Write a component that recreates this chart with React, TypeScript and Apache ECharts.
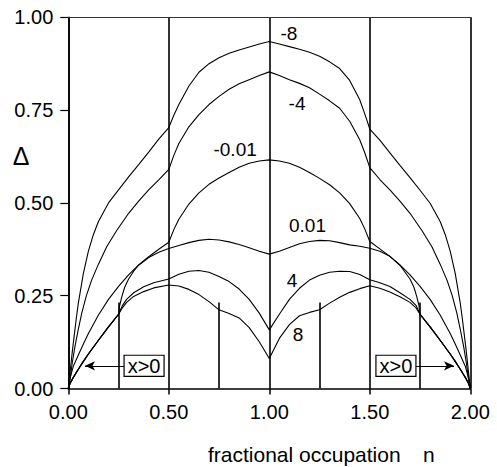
import React, { useEffect, useRef } from "react";
import * as echarts from "echarts";

// x>0 common branch (0 < n < 0.25 and 1.75 < n < 2)
const commonLeft: [number, number][] = [
  [0, 0], [0.01, 0.015], [0.025, 0.03], [0.05, 0.052], [0.075, 0.073], [0.1, 0.093],
  [0.15, 0.13], [0.2, 0.166], [0.25, 0.2],
];
const commonRight: [number, number][] = [
  [1.75, 0.2], [1.8, 0.166], [1.85, 0.13], [1.9, 0.093], [1.925, 0.073], [1.95, 0.052],
  [1.975, 0.03], [1.99, 0.015], [2, 0],
];

const curveM8: [number, number][] = [
  [0, 0], [0.01, 0.05], [0.02, 0.1], [0.03, 0.145], [0.04, 0.19], [0.05, 0.23], [0.075, 0.31],
  [0.1, 0.37], [0.125, 0.415], [0.15, 0.45], [0.2, 0.5], [0.25, 0.535], [0.3, 0.57], [0.35, 0.603],
  [0.4, 0.637], [0.45, 0.672], [0.5, 0.703], [0.525, 0.736], [0.55, 0.765], [0.6, 0.815],
  [0.65, 0.852], [0.7, 0.875], [0.75, 0.891], [0.8, 0.903], [0.85, 0.912], [0.9, 0.92],
  [0.95, 0.928], [1, 0.935], [1.05, 0.928], [1.1, 0.921], [1.15, 0.914], [1.2, 0.906],
  [1.25, 0.895], [1.3, 0.88], [1.35, 0.862], [1.4, 0.83], [1.45, 0.778], [1.475, 0.74],
  [1.5, 0.699], [1.55, 0.669], [1.6, 0.635], [1.65, 0.601], [1.7, 0.568], [1.75, 0.534],
  [1.8, 0.499], [1.85, 0.45], [1.875, 0.415], [1.9, 0.37], [1.925, 0.31], [1.95, 0.23],
  [1.96, 0.19], [1.97, 0.145], [1.98, 0.1], [1.99, 0.05], [2, 0],
];

const curveM4: [number, number][] = [
  [0, 0], [0.01, 0.03], [0.02, 0.07], [0.033, 0.113], [0.05, 0.16], [0.067, 0.203], [0.09, 0.25],
  [0.116, 0.292], [0.15, 0.335], [0.191, 0.382], [0.24, 0.425], [0.3, 0.472], [0.35, 0.505],
  [0.4, 0.535], [0.45, 0.562], [0.5, 0.59], [0.525, 0.628], [0.55, 0.66], [0.6, 0.705],
  [0.65, 0.738], [0.7, 0.765], [0.75, 0.787], [0.8, 0.806], [0.85, 0.821], [0.9, 0.832],
  [0.95, 0.843], [1, 0.853], [1.05, 0.843], [1.1, 0.832], [1.15, 0.822], [1.2, 0.81],
  [1.25, 0.793], [1.3, 0.775], [1.35, 0.755], [1.4, 0.72], [1.45, 0.67], [1.475, 0.635],
  [1.5, 0.595], [1.55, 0.563], [1.6, 0.535], [1.65, 0.505], [1.7, 0.472], [1.76, 0.425],
  [1.809, 0.382], [1.85, 0.335], [1.884, 0.292], [1.91, 0.25], [1.933, 0.203], [1.95, 0.16],
  [1.967, 0.113], [1.98, 0.07], [1.99, 0.03], [2, 0],
];

const curveM001: [number, number][] = [
  [0, 0], [0.01, 0.03], [0.025, 0.06], [0.05, 0.09], [0.075, 0.12], [0.1, 0.148], [0.15, 0.198],
  [0.2, 0.24], [0.25, 0.275], [0.3, 0.306], [0.35, 0.333], [0.4, 0.355], [0.45, 0.375],
  [0.5, 0.394], [0.525, 0.428], [0.55, 0.456], [0.6, 0.497], [0.65, 0.527], [0.7, 0.55],
  [0.75, 0.567], [0.8, 0.582], [0.85, 0.596], [0.9, 0.607], [0.95, 0.613], [1, 0.616],
  [1.05, 0.613], [1.1, 0.607], [1.15, 0.596], [1.2, 0.582], [1.25, 0.566], [1.3, 0.549],
  [1.35, 0.527], [1.4, 0.498], [1.45, 0.458], [1.475, 0.43], [1.5, 0.396], [1.55, 0.376],
  [1.6, 0.356], [1.65, 0.333], [1.7, 0.306], [1.75, 0.275], [1.8, 0.24], [1.85, 0.198],
  [1.9, 0.148], [1.925, 0.12], [1.95, 0.09], [1.975, 0.06], [1.99, 0.03], [2, 0],
];

const midP001: [number, number][] = [
  [0.255, 0.222], [0.266, 0.247], [0.28, 0.272], [0.3, 0.295], [0.325, 0.316], [0.35, 0.332],
  [0.4, 0.353], [0.45, 0.367], [0.5, 0.377], [0.55, 0.385], [0.6, 0.393], [0.65, 0.399],
  [0.7, 0.402], [0.75, 0.4], [0.8, 0.395], [0.85, 0.388], [0.9, 0.379], [0.95, 0.37], [1, 0.362],
  [1.05, 0.37], [1.1, 0.38], [1.15, 0.39], [1.2, 0.396], [1.25, 0.399], [1.3, 0.398],
  [1.35, 0.393], [1.4, 0.387], [1.45, 0.383], [1.5, 0.378], [1.55, 0.37], [1.6, 0.356],
  [1.65, 0.332], [1.7, 0.295], [1.72, 0.272], [1.734, 0.247], [1.745, 0.222],
];

const midP4: [number, number][] = [
  [0.27, 0.224], [0.29, 0.24], [0.325, 0.258], [0.375, 0.274], [0.425, 0.285], [0.5, 0.295],
  [0.55, 0.308], [0.6, 0.316], [0.65, 0.318], [0.7, 0.313], [0.75, 0.302], [0.8, 0.288],
  [0.85, 0.268], [0.9, 0.24], [0.95, 0.203], [1, 0.158], [1.05, 0.2], [1.1, 0.24], [1.15, 0.27],
  [1.2, 0.292], [1.25, 0.305], [1.3, 0.313], [1.35, 0.316], [1.4, 0.315], [1.45, 0.307],
  [1.5, 0.293], [1.55, 0.285], [1.6, 0.275], [1.65, 0.258], [1.7, 0.24], [1.73, 0.224],
];

const midP8: [number, number][] = [
  [0.27, 0.218], [0.29, 0.232], [0.325, 0.248], [0.375, 0.261], [0.425, 0.271], [0.5, 0.279],
  [0.55, 0.276], [0.6, 0.267], [0.65, 0.253], [0.7, 0.234], [0.75, 0.212], [0.8, 0.202],
  [0.85, 0.19], [0.9, 0.164], [0.95, 0.126], [1, 0.081], [1.05, 0.135], [1.1, 0.172],
  [1.15, 0.196], [1.2, 0.205], [1.25, 0.212], [1.3, 0.23], [1.35, 0.246], [1.4, 0.259],
  [1.45, 0.269], [1.5, 0.277], [1.55, 0.27], [1.6, 0.26], [1.65, 0.247], [1.7, 0.232],
  [1.73, 0.217],
];

const curveP001 = [...commonLeft, ...midP001, ...commonRight];
const curveP4 = [...commonLeft, ...midP4, ...commonRight];
const curveP8 = [...commonLeft, ...midP8, ...commonRight];

const curveNames = ["-8", "-4", "-0.01", "0.01", "4", "8"];
const curves = [curveM8, curveM4, curveM001, curveP001, curveP4, curveP8];
const labelPos: [number, number][] = [
  [1.098, 0.957], [1.138, 0.767], [0.83, 0.643], [1.19, 0.438], [1.113, 0.292], [1.143, 0.145],
];

const shortLineN = [0.25, 0.75, 1.25, 1.75];
const shortLineTop = 0.232;
const boxPos: [number, number][] = [[0.377, 0.061], [1.63, 0.061]];
const arrows: [[number, number], [number, number]][] = [
  [[0.277, 0.061], [0.083, 0.061]],
  [[1.728, 0.061], [1.919, 0.061]],
];
const xTicks = { min: 0, max: 2, interval: 0.5 };
const yTicks = { min: 0, max: 1, interval: 0.25 };

const FONT = "Liberation Sans, Arial, Helvetica, sans-serif";

export default function App() {
  const ref = useRef<HTMLDivElement>(null);
  useEffect(() => {
    if (!ref.current) return;
    const chart = echarts.init(ref.current, undefined, { renderer: "svg" });
    const lineSeries = curves.map((c, i) => ({
      type: "line",
      name: curveNames[i],
      data: c,
      showSymbol: false,
      symbol: "none",
      lineStyle: { color: "#000", width: 1.1 },
      silent: true,
      z: 3,
    }));
    const textLabel = {
      show: true,
      position: "inside",
      formatter: "{b}",
      color: "#000",
      opacity: 1,
      textBorderWidth: 0,
      textShadowBlur: 0,
      fontFamily: FONT,
    };
    chart.setOption({
      animation: false,
      grid: { left: 68.3, right: 26.7, top: 17.3, bottom: 78.5 },
      xAxis: [
        {
          type: "value",
          ...xTicks,
          axisLine: { show: true, lineStyle: { color: "#000", width: 1.5 } },
          axisTick: { show: true, length: 6, lineStyle: { color: "#000", width: 1.5 } },
          axisLabel: {
            color: "#000",
            fontSize: 20,
            fontFamily: FONT,
            margin: 13,
            formatter: (v: number) => v.toFixed(2),
          },
          splitLine: { show: true, lineStyle: { color: "#000", width: 1.6 } },
        },
        {
          type: "value",
          position: "top",
          ...xTicks,
          axisLine: { show: true, onZero: false, lineStyle: { color: "#333", width: 1 } },
          axisTick: { show: false },
          axisLabel: { show: false },
          splitLine: { show: false },
        },
      ],
      yAxis: {
        type: "value",
        ...yTicks,
        axisLine: { show: true, lineStyle: { color: "#000", width: 1.5 } },
        axisTick: { show: true, length: 8, lineStyle: { color: "#000", width: 1.2 } },
        axisLabel: {
          color: "#000",
          fontSize: 20,
          fontFamily: FONT,
          margin: 15,
          formatter: (v: number) => v.toFixed(2),
        },
        splitLine: { show: false },
      },
      graphic: [
        {
          type: "text",
          x: 21,
          y: 156,
          style: {
            text: "Δ",
            fontSize: 25,
            fontFamily: FONT,
            fill: "#000",
            align: "center",
            verticalAlign: "middle",
          },
        },
        {
          type: "text",
          x: 208,
          y: 454,
          style: {
            text: "fractional occupation",
            fontSize: 21,
            fontFamily: FONT,
            fill: "#000",
            align: "left",
            verticalAlign: "middle",
          },
        },
        {
          type: "text",
          x: 423,
          y: 454,
          style: {
            text: "n",
            fontSize: 21,
            fontFamily: FONT,
            fill: "#000",
            align: "left",
            verticalAlign: "middle",
          },
        },
      ],
      series: [
        ...lineSeries,
        {
          type: "line",
          data: [],
          silent: true,
          markLine: {
            silent: true,
            symbol: ["none", "none"],
            label: { show: false },
            lineStyle: { color: "#000", width: 1.6, type: "solid" },
            data: shortLineN.map((n) => [{ coord: [n, 0] }, { coord: [n, shortLineTop] }]),
          },
        },
        {
          type: "line",
          data: [],
          silent: true,
          markLine: {
            silent: true,
            symbol: ["none", "arrow"],
            symbolSize: [7, 10],
            label: { show: false },
            lineStyle: { color: "#000", width: 1.1, type: "solid" },
            itemStyle: { color: "#000" },
            data: arrows.map((a) => [{ coord: a[0] }, { coord: a[1] }]),
          },
        },
        {
          type: "scatter",
          symbolSize: 0,
          silent: true,
          z: 5,
          itemStyle: { color: "#000" },
          data: boxPos.map((p) => ({ value: p, name: "x>0" })),
          label: {
            ...textLabel,
            fontSize: 20,
            borderColor: "#000",
            borderWidth: 1.2,
            backgroundColor: "#fff",
            padding: [0, 3, 0, 3],
          },
        },
        {
          type: "scatter",
          symbolSize: 0,
          silent: true,
          z: 5,
          itemStyle: { color: "#000" },
          data: labelPos.map((p, i) => ({ value: p, name: curveNames[i] })),
          label: { ...textLabel, fontSize: 19 },
        },
      ],
    });
    return () => chart.dispose();
  }, []);
  return (
    <div
      ref={ref}
      style={{ position: "fixed", left: 0, top: 0, width: 497, height: 467, background: "#fff" }}
    />
  );
}
